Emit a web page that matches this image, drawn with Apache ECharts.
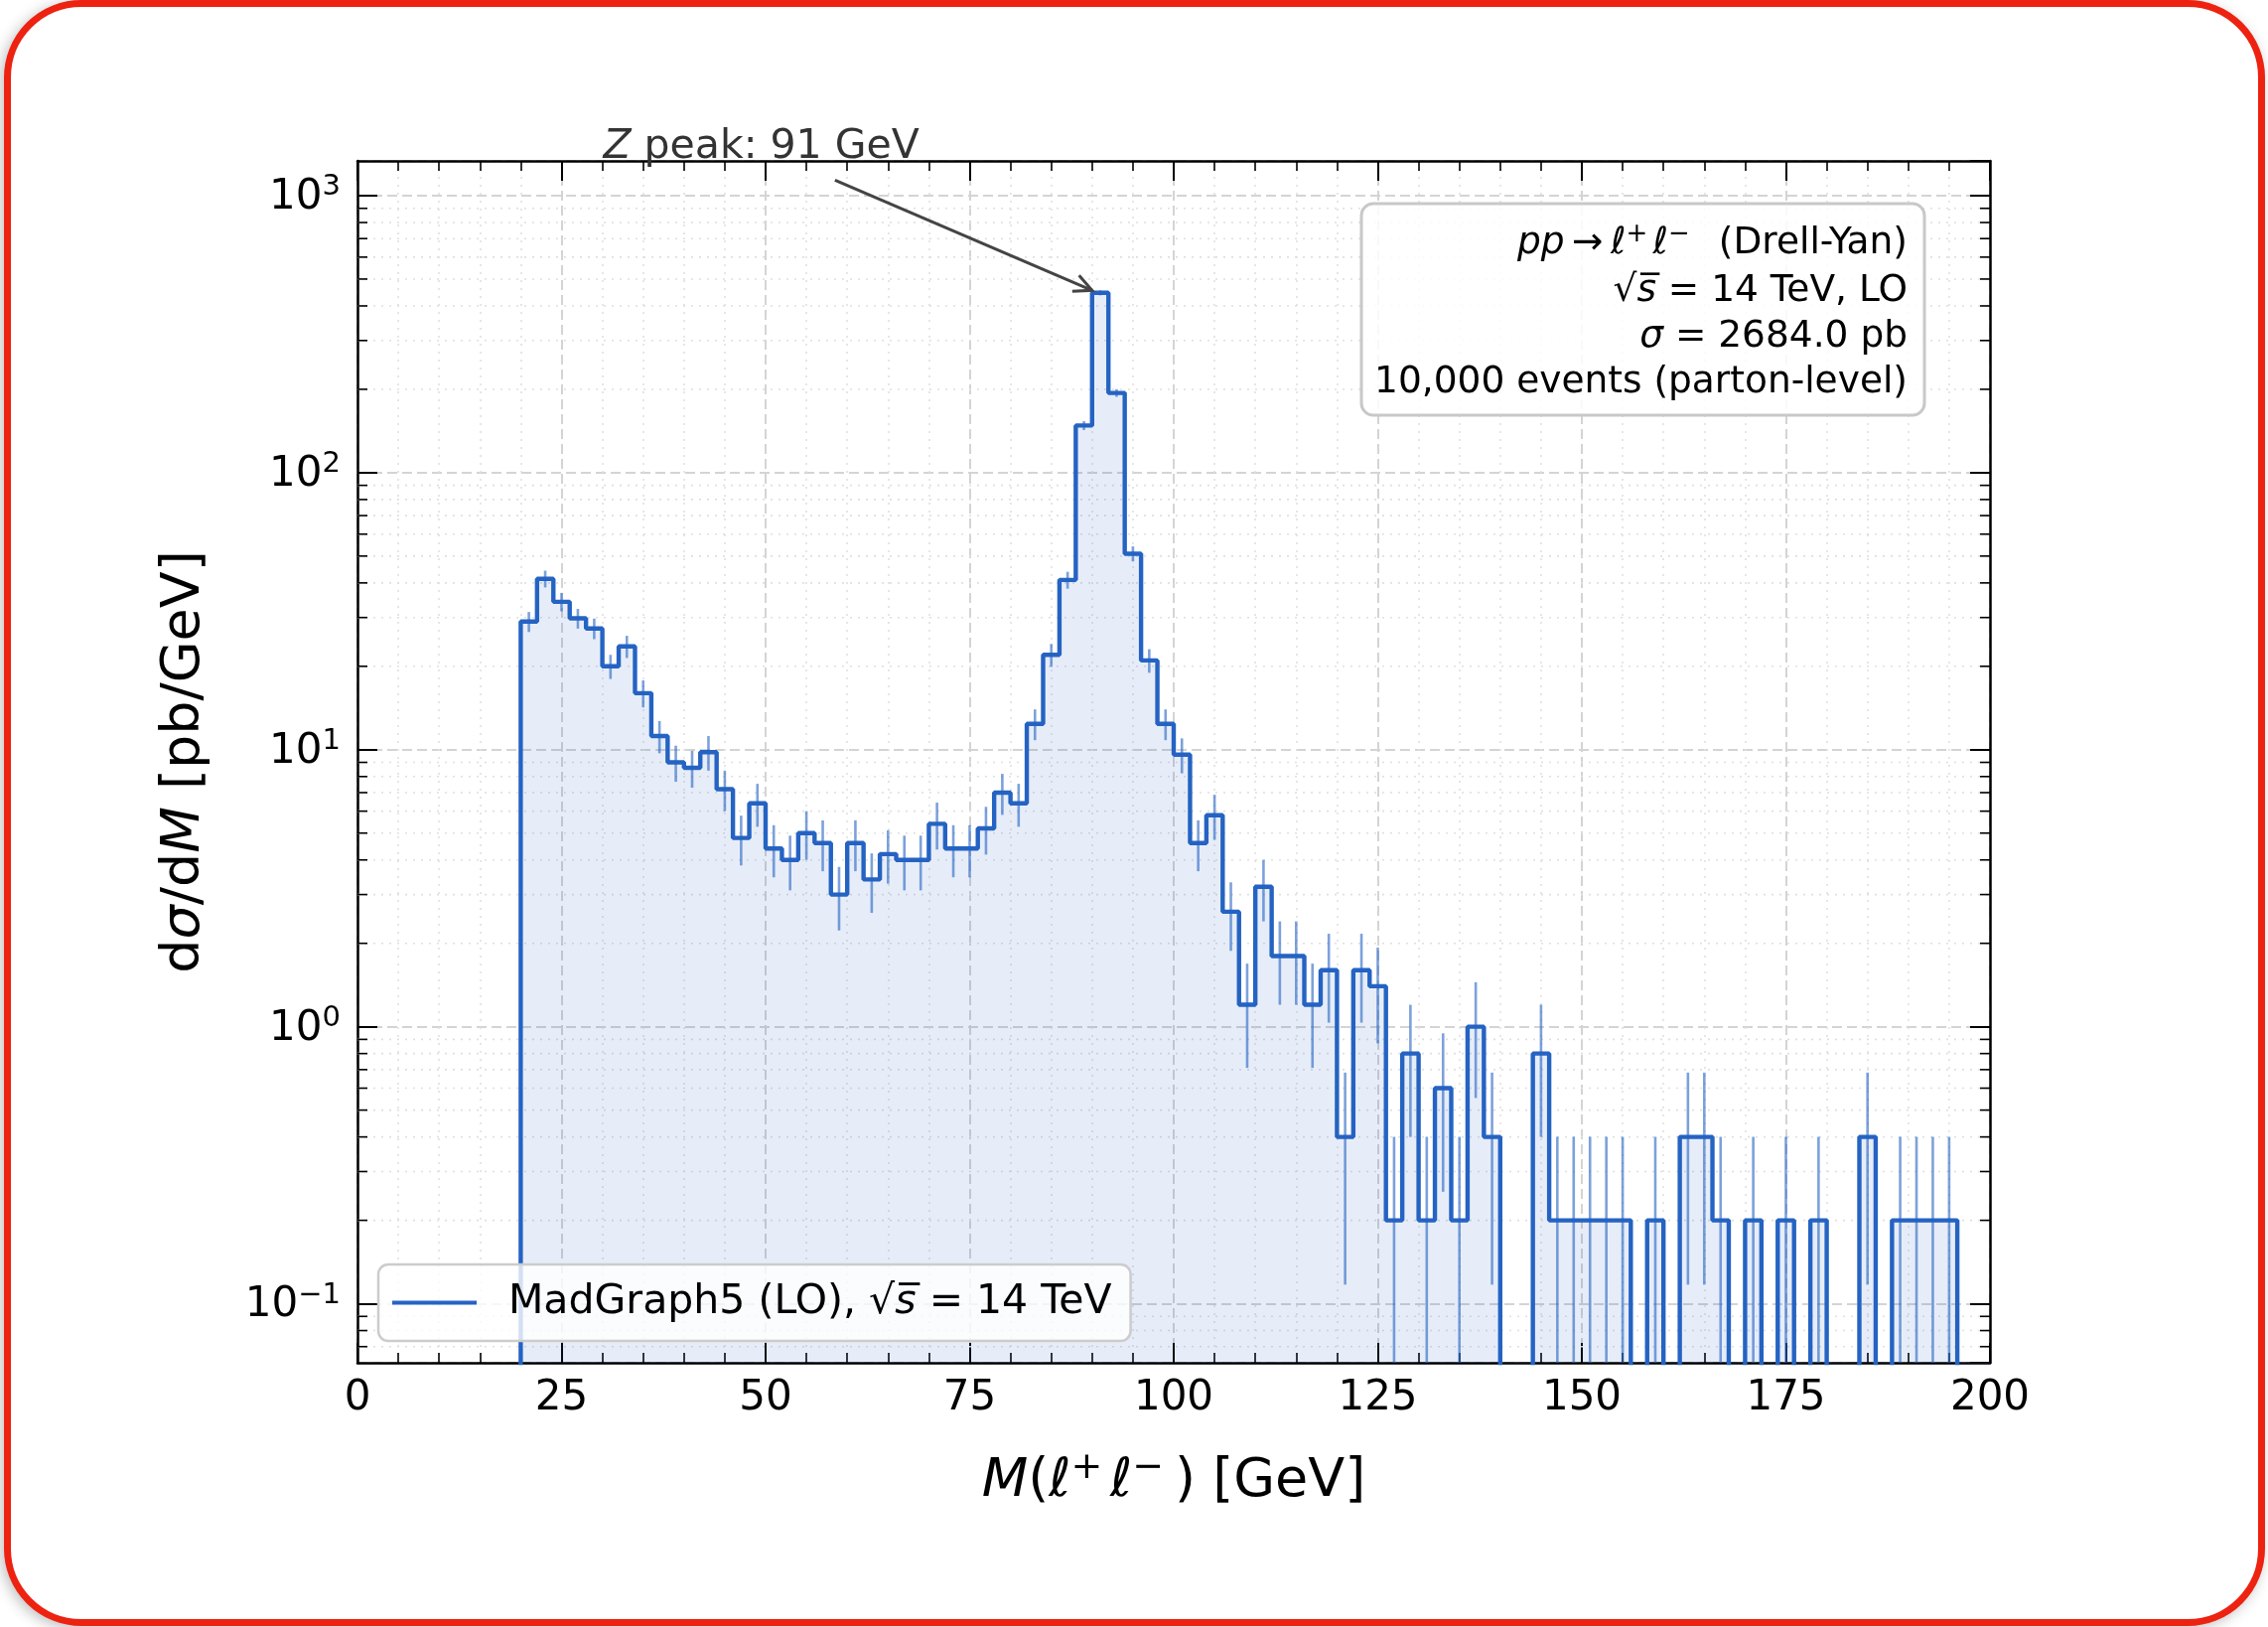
<!DOCTYPE html>
<html>
<head>
<meta charset="utf-8">
<title>Drell-Yan dilepton invariant mass</title>
<script src="https://cdn.jsdelivr.net/npm/echarts@6/dist/echarts.min.js"></script>
<style>
  html, body { margin: 0; padding: 0; background: #fff; }
  body { width: 2284px; height: 1638px; position: relative; overflow: hidden; }
  .card {
    position: absolute; left: 4px; top: 0; width: 2277px; height: 1637px;
    box-sizing: border-box; border: 7px solid #ee2211; border-radius: 78px;
    box-shadow: -3px 3px 14px rgba(0, 0, 0, 0.25); background: #fff;
  }
  #chart { position: absolute; left: 0; top: 0; width: 2284px; height: 1638px; }
</style>
</head>
<body>
<div class="card"></div>
<div id="chart"></div>
<script>
const FONT = "DejaVu Sans";

// 2 GeV bins from 20 to 200 GeV
const binStart = 20;
const binWidth = 2;
// dσ/dM per bin [pb/GeV]
const dsigma = [
  29.0, 41.4, 34.2, 29.8, 27.4, 20.0, 23.6, 16.0, 11.2, 9.0,
  8.6, 9.8, 7.2, 4.8, 6.4, 4.4, 4.0, 5.0, 4.6, 3.0,
  4.6, 3.4, 4.2, 4.0, 4.0, 5.4, 4.4, 4.4, 5.2, 7.0,
  6.4, 12.4, 22.0, 41.0, 148, 446, 194, 51.0, 21.0, 12.4,
  9.6, 4.6, 5.8, 2.6, 1.2, 3.2, 1.8, 1.8, 1.2, 1.6,
  0.4, 1.6, 1.4, 0.2, 0.8, 0.2, 0.6, 0.2, 1.0, 0.4,
  0, 0, 0.8, 0.2, 0.2, 0.2, 0.2, 0.2, 0, 0.2,
  0, 0.4, 0.4, 0.2, 0, 0.2, 0, 0.2, 0, 0.2,
  0, 0, 0.4, 0, 0.2, 0.2, 0.2, 0.2, 0, 0,
];
// weight of one MC entry in dσ/dM (Poisson error bars)
const entryWeight = 0.2;

const xRange = [0, 200];
const xTickStep = 25;
const yRange = [0.0612, 1335];

const seriesName = "MadGraph5 (LO), √s = 14 TeV";
const legendLabel = "{n|MadGraph5 (LO), √}{i|s\u0305}{n| = 14 TeV}";
const infoLines = [
  "{i|pp}{n|\u2009→\u2009}{i|ℓ}{sup|+\u2009}{i|ℓ}{sup|−\u2009}{n|  (Drell-Yan)}",
  "{n|√}{i|s\u0305}{n| = 14 TeV, LO}",
  "{i|σ}{n| = 2684.0 pb}",
  "{n|10,000 events (parton-level)}",
];
const peakLabel = "{i|Z}{n| peak: 91 GeV}";
const peakLabelAt = [30.1, 1500];
const peakArrowFrom = [58.5, 1137];
const peakArrowTo = [90.0, 455];

const BLUE = "#2563c3";
const FLOOR = 1e-4; // empty bins sit below the log axis

function mathRich(size, color) {
  const base = { fontSize: size, fontFamily: FONT, color: color, fill: color, verticalAlign: "bottom" };
  return {
    n: base,
    i: Object.assign({}, base, { fontStyle: "italic" }),
    sup: {
      fontSize: Math.round(size * 0.7), fontFamily: FONT, color: color, fill: color,
      verticalAlign: "bottom", padding: [0, 0, Math.round(size * 0.4), 0],
    },
  };
}

// step outline, left edges with post-step
const stepPts = [[binStart, FLOOR]];
dsigma.forEach((v, i) => stepPts.push([binStart + i * binWidth, v > 0 ? v : FLOOR]));
stepPts.push([binStart + dsigma.length * binWidth, FLOOR]);

const errBars = [];
dsigma.forEach((v, i) => {
  if (v > 0) errBars.push([binStart + (i + 0.5) * binWidth, v, Math.sqrt(v * entryWeight)]);
});

const yMinor = [];
for (let k = -2; k <= 3; k++) {
  for (let m = 2; m <= 9; m++) {
    const v = +(m * Math.pow(10, k)).toPrecision(3);
    if (v > yRange[0] && v < yRange[1]) yMinor.push([xRange[0], v]);
  }
}

const chart = echarts.init(document.getElementById("chart"), null, { renderer: "canvas" });

const axisLine = { show: true, onZero: false, lineStyle: { color: "#000", width: 2.5 } };
const majorTick = { show: true, inside: true, length: 20, lineStyle: { color: "#000", width: 2 } };
const minorTickX = { show: true, splitNumber: 5, length: 10, lineStyle: { color: "#000", width: 1.6 } };
const infoLineY = [244, 293, 339, 385];

chart.setOption({
  animation: false,
  grid: { left: 360, top: 162, width: 1644, height: 1210, outerBoundsMode: "none" },
  legend: {
    left: 381,
    top: 1273,
    padding: [18, 19, 18, 14],
    backgroundColor: "rgba(255,255,255,0.8)",
    borderColor: "#cccccc",
    borderWidth: 2.5,
    borderRadius: 10,
    icon: "rect",
    itemWidth: 85,
    itemHeight: 4,
    data: [seriesName],
    formatter: () => legendLabel,
    textStyle: { fontSize: 41, fontFamily: FONT, color: "#000", padding: [0, 0, 0, 27], rich: mathRich(41, "#000") },
  },
  xAxis: [
    {
      type: "value", min: xRange[0], max: xRange[1], interval: xTickStep, position: "bottom",
      axisLine: axisLine, axisTick: majorTick, minorTick: minorTickX,
      axisLabel: { fontSize: 42, fontFamily: FONT, color: "#000", margin: 15 },
      splitLine: { show: true, lineStyle: { color: "#d4d4d4", width: 2, type: [10, 5] } },
      minorSplitLine: { show: true, lineStyle: { color: "#e0e0e0", width: 1.6, type: [2, 6] } },
      name: "{i|M}{n|(}{i|ℓ}{sup|+\u2009}{i|ℓ}{sup|−}{n|\u2009) [GeV]}",
      nameLocation: "middle",
      nameGap: 87,
      nameTextStyle: { fontSize: 54, fontFamily: FONT, color: "#000", rich: mathRich(54, "#000") },
    },
    {
      type: "value", min: xRange[0], max: xRange[1], interval: xTickStep, position: "top",
      axisLine: axisLine, axisTick: majorTick, minorTick: minorTickX,
      axisLabel: { show: false }, splitLine: { show: false },
    },
  ],
  yAxis: [
    {
      type: "log", logBase: 10, min: yRange[0], max: yRange[1], position: "left",
      axisLine: axisLine, axisTick: majorTick,
      axisLabel: {
        fontSize: 42, fontFamily: FONT, color: "#000", margin: 17,
        showMinLabel: false, showMaxLabel: false,
        formatter: (v) => {
          const k = Math.round(Math.log10(v));
          return "{n|10}{sup|" + (k < 0 ? "−" + -k : k) + "}";
        },
        rich: mathRich(42, "#000"),
      },
      splitLine: { show: true, lineStyle: { color: "#d4d4d4", width: 2, type: [10, 5] } },
      name: "{n|d}{i|σ}{n|/d}{i|M}{n| [pb/GeV]}",
      nameLocation: "middle",
      nameGap: 147,
      nameRotate: 90,
      nameTextStyle: { fontSize: 54, fontFamily: FONT, color: "#000", rich: mathRich(54, "#000") },
    },
    {
      type: "log", logBase: 10, min: yRange[0], max: yRange[1], position: "right",
      axisLine: axisLine, axisTick: majorTick,
      axisLabel: { show: false }, splitLine: { show: false },
    },
  ],
  graphic: [
    {
      type: "rect", z: 100,
      shape: { x: 1371, y: 205, width: 567, height: 213, r: 12 },
      style: { fill: "rgba(255,255,255,0.85)", stroke: "#c8c8c8", lineWidth: 3 },
    },
    ...infoLines.map((t, i) => ({
      type: "text", z: 101, x: 1921, y: infoLineY[i],
      style: {
        text: t, rich: mathRich(37.5, "#000"), fontSize: 37.5, fontFamily: FONT,
        fill: "#000", align: "right", verticalAlign: "middle",
      },
    })),
  ],
  series: [
    {
      // minor log ticks and dotted minor grid
      type: "custom",
      coordinateSystem: "cartesian2d",
      silent: true,
      clip: false,
      z: 1,
      data: yMinor,
      renderItem: (params, api) => {
        const v = api.value(1);
        const l = api.coord([xRange[0], v]);
        const r = api.coord([xRange[1], v]);
        return {
          type: "group",
          children: [
            { type: "line", shape: { x1: l[0], y1: l[1], x2: r[0], y2: r[1] },
              style: { stroke: "#e0e0e0", lineWidth: 1.6, lineDash: [2, 6] } },
            { type: "line", shape: { x1: l[0], y1: l[1], x2: l[0] + 10, y2: l[1] },
              style: { stroke: "#000", lineWidth: 1.6 } },
            { type: "line", shape: { x1: r[0] - 10, y1: r[1], x2: r[0], y2: r[1] },
              style: { stroke: "#000", lineWidth: 1.6 } },
          ],
        };
      },
    },
    {
      name: seriesName,
      type: "line",
      data: stepPts,
      step: "end",
      symbol: "none",
      z: 3,
      itemStyle: { color: BLUE },
      lineStyle: { color: BLUE, width: 4.4 },
      areaStyle: { color: "rgba(37,99,195,0.16)", origin: "start" },
    },
    {
      type: "custom",
      coordinateSystem: "cartesian2d",
      silent: true,
      clip: true,
      z: 4,
      data: errBars,
      renderItem: (params, api) => {
        const x = api.value(0), v = api.value(1), e = api.value(2);
        const top = api.coord([x, v + e]);
        const bot = api.coord([x, v - e > 1e-9 ? v - e : FLOOR]);
        return {
          type: "line",
          shape: { x1: top[0], y1: top[1], x2: bot[0], y2: bot[1] },
          style: { stroke: "rgba(37,99,195,0.6)", lineWidth: 2.6 },
        };
      },
    },
    {
      // Z peak annotation
      type: "custom",
      coordinateSystem: "cartesian2d",
      silent: true,
      clip: false,
      z: 20,
      data: [peakArrowTo],
      renderItem: (params, api) => {
        const a = api.coord(peakArrowFrom);
        const b = api.coord(peakArrowTo);
        const t = api.coord(peakLabelAt);
        const ang = Math.atan2(b[1] - a[1], b[0] - a[0]);
        const L = 20, w = 0.45;
        const h1 = [b[0] - L * Math.cos(ang - w), b[1] - L * Math.sin(ang - w)];
        const h2 = [b[0] - L * Math.cos(ang + w), b[1] - L * Math.sin(ang + w)];
        return {
          type: "group",
          children: [
            { type: "line", shape: { x1: a[0], y1: a[1], x2: b[0], y2: b[1] },
              style: { stroke: "#444", lineWidth: 3 } },
            { type: "polyline", shape: { points: [h1, b, h2] },
              style: { stroke: "#444", lineWidth: 3, fill: "none" } },
            { type: "text", x: t[0], y: t[1],
              style: { text: peakLabel, rich: mathRich(41, "#333"), fontSize: 41, fontFamily: FONT,
                       fill: "#333", align: "left", verticalAlign: "middle" } },
          ],
        };
      },
    },
  ],
});
</script>
</body>
</html>
